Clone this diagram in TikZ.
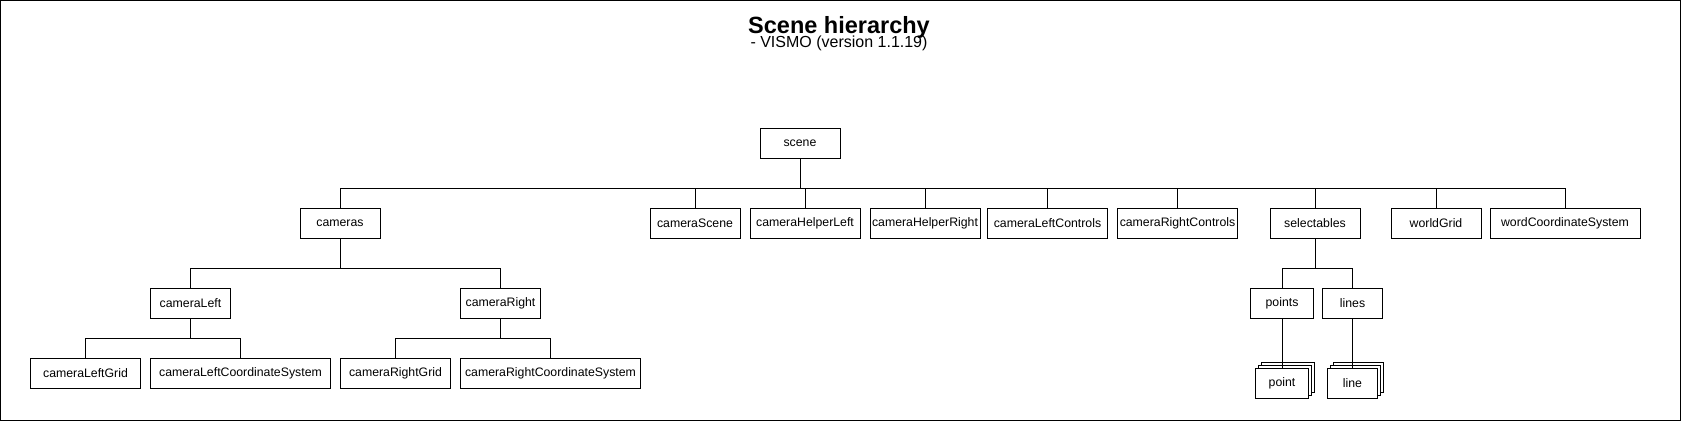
\documentclass[tikz,border=0pt]{standalone}
\usepackage{fontspec}
\setmainfont{Liberation Sans}
\begin{document}
\begin{tikzpicture}[x=1pt,y=-1pt,
  box/.style={draw, line width=1pt, fill=white, minimum height=30pt, inner sep=0pt, font=\fontsize{12.3}{14}\selectfont},
  conn/.style={line width=1pt},
]
\useasboundingbox (0,0) rectangle (1681,421);
\draw[line width=1pt] (0.5,0.5) rectangle (1680.5,420.5);
\node[font=\bfseries\fontsize{23.5}{26}\selectfont, anchor=base, inner sep=0pt] (title) at (839,33.3) {Scene hierarchy};
\node[font=\fontsize{16}{18}\selectfont, anchor=base, inner sep=0pt] (sub) at (839,47.5) {- VISMO (version 1.1.19)};

% root
\node[box, minimum width=80pt] (scene) at (800,143.5) {scene};
% level 1
\node[box, minimum width=80pt]  (cameras)      at (340,223.5)    {cameras};
\node[box, minimum width=90pt]  (cameraScene)  at (695,223.5)    {cameraScene};
\node[box, minimum width=110pt] (helperLeft)   at (805,223.5)    {cameraHelperLeft};
\node[box, minimum width=110pt] (helperRight)  at (925,223.5)    {cameraHelperRight};
\node[box, minimum width=120pt] (leftCtrl)     at (1047.5,223.5) {cameraLeftControls};
\node[box, minimum width=120pt] (rightCtrl)    at (1177.5,223.5) {cameraRightControls};
\node[box, minimum width=90pt]  (selectables)  at (1315,223.5)   {selectables};
\node[box, minimum width=90pt]  (worldGrid)    at (1436,223.5)   {worldGrid};
\node[box, minimum width=150pt] (worldCS)      at (1565,223.5)   {wordCoordinateSystem};
% level 2
\node[box, minimum width=80pt] (cameraLeft)  at (190.5,303.5) {cameraLeft};
\node[box, minimum width=80pt] (cameraRight) at (500.5,303.5) {cameraRight};
\node[box, minimum width=63pt] (points)      at (1282,303.5)  {points};
\node[box, minimum width=60pt] (lines)       at (1352.5,303.5)  {lines};
% level 3
\node[box, minimum width=110pt] (leftGrid)  at (85.5,373.5)  {cameraLeftGrid};
\node[box, minimum width=180pt] (leftCS)    at (240.5,373.5) {cameraLeftCoordinateSystem};
\node[box, minimum width=110pt] (rightGrid) at (395.5,373.5) {cameraRightGrid};
\node[box, minimum width=180pt] (rightCS)   at (550.5,373.5) {cameraRightCoordinateSystem};
% stacks
\node[box, minimum width=53pt] (pointC) at (1288,377.5) {};
\node[box, minimum width=53pt] (pointB) at (1285,380.5) {};
\node[box, minimum width=53pt] (point)  at (1282,383.5) {point};
\node[box, minimum width=50pt] (lineC)  at (1358.5,377.5) {};
\node[box, minimum width=50pt] (lineB)  at (1355.5,380.5) {};
\node[box, minimum width=50pt] (line)   at (1352.5,383.5) {line};

% buses
\coordinate (bus1) at (0,188.5);
\coordinate (bus2) at (0,268.5);
\coordinate (bus3) at (0,338.5);

\foreach \c in {cameras,cameraScene,helperLeft,helperRight,leftCtrl,rightCtrl,selectables,worldGrid,worldCS}
  \draw[conn] (scene.south) -- (scene.south |- bus1) -| (\c.north);
\foreach \c in {cameraLeft,cameraRight}
  \draw[conn] (cameras.south) -- (cameras.south |- bus2) -| (\c.north);
\foreach \c in {leftGrid,leftCS}
  \draw[conn] (cameraLeft.south) -- (cameraLeft.south |- bus3) -| (\c.north);
\foreach \c in {rightGrid,rightCS}
  \draw[conn] (cameraRight.south) -- (cameraRight.south |- bus3) -| (\c.north);
\foreach \c in {points,lines}
  \draw[conn] (selectables.south) -- (selectables.south |- bus2) -| (\c.north);
\draw[conn] (points.south) -- (point.north);
\draw[conn] (lines.south) -- (line.north);
\end{tikzpicture}
\end{document}
